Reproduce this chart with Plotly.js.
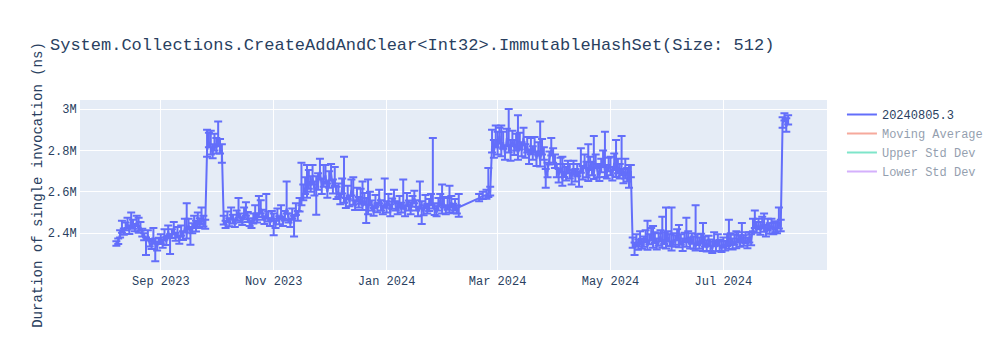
<!DOCTYPE html>
<html>
<head>
<meta charset="utf-8">
<script src="https://cdn.plot.ly/plotly-3.0.1.min.js"></script>
<style>html,body{margin:0;padding:0;background:#fff;}</style>
</head>
<body>
<div id="chart" style="width:1000px;height:350px;"></div>
<script>
// ---- data (durations in ns) ----
const runDates = [
  "2023-08-08","2023-08-09","2023-08-10","2023-08-11","2023-08-12","2023-08-13","2023-08-14","2023-08-15","2023-08-16","2023-08-17","2023-08-18","2023-08-19","2023-08-20","2023-08-21","2023-08-22","2023-08-23","2023-08-24","2023-08-25","2023-08-26","2023-08-27","2023-08-28","2023-08-29","2023-08-30","2023-08-31",
  "2023-09-01","2023-09-02","2023-09-03","2023-09-04","2023-09-05","2023-09-06","2023-09-07","2023-09-08","2023-09-09","2023-09-10","2023-09-11","2023-09-12","2023-09-13","2023-09-14","2023-09-15","2023-09-16","2023-09-17","2023-09-18","2023-09-19","2023-09-20","2023-09-21","2023-09-22","2023-09-23","2023-09-24","2023-09-25","2023-09-26","2023-09-27","2023-09-28","2023-09-29","2023-09-30",
  "2023-10-01","2023-10-02","2023-10-03","2023-10-04","2023-10-05","2023-10-06","2023-10-07","2023-10-08","2023-10-09","2023-10-10","2023-10-11","2023-10-12","2023-10-13","2023-10-14","2023-10-15","2023-10-16","2023-10-17","2023-10-18","2023-10-19","2023-10-20","2023-10-21","2023-10-22","2023-10-23","2023-10-24","2023-10-25","2023-10-26","2023-10-27","2023-10-28","2023-10-29","2023-10-30","2023-10-31",
  "2023-11-01","2023-11-02","2023-11-03","2023-11-04","2023-11-05","2023-11-06","2023-11-07","2023-11-08","2023-11-09","2023-11-10","2023-11-11","2023-11-12","2023-11-13","2023-11-14","2023-11-15","2023-11-16","2023-11-17","2023-11-18","2023-11-19","2023-11-20","2023-11-21","2023-11-22","2023-11-23","2023-11-24","2023-11-25","2023-11-26","2023-11-27","2023-11-28","2023-11-29","2023-11-30",
  "2023-12-01","2023-12-02","2023-12-03","2023-12-04","2023-12-05","2023-12-06","2023-12-07","2023-12-08","2023-12-09","2023-12-10","2023-12-11","2023-12-12","2023-12-13","2023-12-14","2023-12-15","2023-12-16","2023-12-17","2023-12-18","2023-12-19","2023-12-20","2023-12-21","2023-12-22","2023-12-23","2023-12-24","2023-12-25","2023-12-26","2023-12-27","2023-12-28","2023-12-29","2023-12-30","2023-12-31",
  "2024-01-01","2024-01-02","2024-01-03","2024-01-04","2024-01-05","2024-01-06","2024-01-07","2024-01-08","2024-01-09","2024-01-10","2024-01-11","2024-01-12","2024-01-13","2024-01-14","2024-01-15","2024-01-16","2024-01-17","2024-01-18","2024-01-19","2024-01-20","2024-01-21","2024-01-22","2024-01-23","2024-01-24","2024-01-25","2024-01-26","2024-01-27","2024-01-28","2024-01-29","2024-01-30","2024-01-31",
  "2024-02-01","2024-02-02","2024-02-03","2024-02-04","2024-02-05","2024-02-06","2024-02-07","2024-02-08","2024-02-09","2024-02-20","2024-02-22","2024-02-24","2024-02-25","2024-02-26","2024-02-27","2024-02-28","2024-02-29",
  "2024-03-01","2024-03-02","2024-03-03","2024-03-04","2024-03-05","2024-03-06","2024-03-07","2024-03-08","2024-03-09","2024-03-10","2024-03-11","2024-03-12","2024-03-13","2024-03-14","2024-03-15","2024-03-16","2024-03-17","2024-03-18","2024-03-19","2024-03-20","2024-03-21","2024-03-22","2024-03-23","2024-03-24","2024-03-25","2024-03-26","2024-03-27","2024-03-28","2024-03-29","2024-03-30","2024-03-31",
  "2024-04-01","2024-04-02","2024-04-03","2024-04-04","2024-04-05","2024-04-06","2024-04-07","2024-04-08","2024-04-09","2024-04-10","2024-04-11","2024-04-12","2024-04-13","2024-04-14","2024-04-15","2024-04-16","2024-04-17","2024-04-18","2024-04-19","2024-04-20","2024-04-21","2024-04-22","2024-04-23","2024-04-24","2024-04-25","2024-04-26","2024-04-27","2024-04-28","2024-04-29","2024-04-30",
  "2024-05-01","2024-05-02","2024-05-03","2024-05-04","2024-05-05","2024-05-06","2024-05-07","2024-05-08","2024-05-09","2024-05-10","2024-05-11","2024-05-12","2024-05-13","2024-05-14","2024-05-15","2024-05-16","2024-05-17","2024-05-18","2024-05-19","2024-05-20","2024-05-21","2024-05-22","2024-05-23","2024-05-24","2024-05-25","2024-05-26","2024-05-27","2024-05-28","2024-05-29","2024-05-30","2024-05-31",
  "2024-06-01","2024-06-02","2024-06-03","2024-06-04","2024-06-05","2024-06-06","2024-06-07","2024-06-08","2024-06-09","2024-06-10","2024-06-11","2024-06-12","2024-06-13","2024-06-14","2024-06-15","2024-06-16","2024-06-17","2024-06-18","2024-06-19","2024-06-20","2024-06-21","2024-06-22","2024-06-23","2024-06-24","2024-06-25","2024-06-26","2024-06-27","2024-06-28","2024-06-29","2024-06-30",
  "2024-07-01","2024-07-02","2024-07-03","2024-07-04","2024-07-05","2024-07-06","2024-07-07","2024-07-08","2024-07-09","2024-07-10","2024-07-11","2024-07-12","2024-07-13","2024-07-14","2024-07-15","2024-07-16","2024-07-17","2024-07-18","2024-07-19","2024-07-20","2024-07-21","2024-07-22","2024-07-23","2024-07-24","2024-07-25","2024-07-26","2024-07-27","2024-07-28","2024-07-29","2024-07-30","2024-07-31",
  "2024-08-01","2024-08-02","2024-08-03","2024-08-04","2024-08-05"
];

const durations = [
  2350e3,2360e3,2395e3,2420e3,2405e3,2430e3,2445e3,2410e3,2460e3,2440e3,2425e3,2455e3,2415e3,2430e3,2400e3,2380e3,2365e3,2390e3,2350e3,2340e3,2370e3,2355e3,2335e3,2360e3,
  2370e3,2345e3,2390e3,2360e3,2410e3,2375e3,2395e3,2420e3,2380e3,2400e3,2365e3,2410e3,2385e3,2430e3,2395e3,2440e3,2405e3,2420e3,2450e3,2430e3,2460e3,2445e3,2470e3,2455e3,2440e3,2800e3,2840e3,2815e3,2790e3,2830e3,
  2810e3,2850e3,2820e3,2800e3,2460e3,2440e3,2475e3,2450e3,2490e3,2465e3,2445e3,2480e3,2500e3,2470e3,2455e3,2490e3,2510e3,2475e3,2450e3,2440e3,2465e3,2490e3,2470e3,2500e3,2520e3,2485e3,2460e3,2495e3,2475e3,2450e3,2480e3,
  2470e3,2440e3,2490e3,2460e3,2500e3,2450e3,2480e3,2520e3,2470e3,2445e3,2490e3,2460e3,2510e3,2480e3,2530e3,2560e3,2590e3,2620e3,2600e3,2650e3,2630e3,2670e3,2610e3,2620e3,2640e3,2700e3,2620e3,2660e3,2680e3,2600e3,
  2650e3,2690e3,2620e3,2660e3,2590e3,2600e3,2560e3,2620e3,2570e3,2540e3,2590e3,2550e3,2610e3,2560e3,2530e3,2580e3,2545e3,2570e3,2530e3,2560e3,2540e3,2510e3,2560e3,2530e3,2500e3,2550e3,2520e3,2570e3,2530e3,2510e3,2545e3,
  2520e3,2560e3,2500e3,2540e3,2580e3,2530e3,2510e3,2550e3,2520e3,2540e3,2500e3,2560e3,2530e3,2510e3,2550e3,2570e3,2530e3,2500e3,2540e3,2520e3,2505e3,2545e3,2515e3,2530e3,2560e3,2540e3,2510e3,2500e3,2530e3,2560e3,2515e3,
  2545e3,2510e3,2535e3,2520e3,2550e3,2515e3,2530e3,2510e3,2525e3,2570e3,2580e3,2585e3,2595e3,2600e3,2820e3,2790e3,2850e3,
  2810e3,2870e3,2800e3,2840e3,2780e3,2860e3,2820e3,2790e3,2850e3,2810e3,2830e3,2780e3,2840e3,2800e3,2860e3,2790e3,2820e3,2770e3,2810e3,2780e3,2820e3,2760e3,2800e3,2750e3,2810e3,2780e3,2680e3,2700e3,2760e3,2800e3,2770e3,
  2740e3,2700e3,2680e3,2720e3,2660e3,2700e3,2680e3,2720e3,2690e3,2670e3,2710e3,2680e3,2700e3,2660e3,2720e3,2690e3,2740e3,2700e3,2680e3,2730e3,2710e3,2690e3,2740e3,2700e3,2680e3,2720e3,2750e3,2700e3,2690e3,2730e3,
  2710e3,2680e3,2740e3,2700e3,2720e3,2690e3,2710e3,2670e3,2700e3,2680e3,2660e3,2700e3,2350e3,2330e3,2360e3,2340e3,2370e3,2345e3,2355e3,2380e3,2340e3,2365e3,2390e3,2350e3,2375e3,2340e3,2360e3,2385e3,2350e3,2370e3,2345e3,
  2380e3,2360e3,2335e3,2370e3,2355e3,2390e3,2350e3,2365e3,2340e3,2375e3,2355e3,2380e3,2345e3,2370e3,2350e3,2335e3,2365e3,2345e3,2370e3,2340e3,2355e3,2330e3,2360e3,2340e3,2325e3,2355e3,2335e3,2360e3,2340e3,2330e3,
  2350e3,2335e3,2360e3,2345e3,2370e3,2340e3,2365e3,2350e3,2375e3,2355e3,2380e3,2360e3,2370e3,2350e3,2375e3,2360e3,2430e3,2450e3,2420e3,2440e3,2415e3,2445e3,2425e3,2410e3,2435e3,2420e3,2440e3,2415e3,2430e3,2420e3,2445e3,
  2430e3,2930e3,2960e3,2915e3,2945e3
];

const errorAbove = [
  12e3,15e3,20e3,40e3,18e3,22e3,30e3,20e3,40e3,25e3,20e3,30e3,60e3,25e3,22e3,20e3,15e3,25e3,18e3,22e3,55e3,20e3,25e3,18e3,
  25e3,20e3,30e3,22e3,28e3,20e3,25e3,35e3,22e3,30e3,20e3,28e3,25e3,40e3,150e3,30e3,25e3,28e3,35e3,30e3,40e3,28e3,55e3,30e3,25e3,100e3,45e3,80e3,40e3,50e3,
  50e3,90e3,35e3,30e3,25e3,20e3,30e3,22e3,35e3,25e3,20e3,30e3,70e3,25e3,22e3,35e3,40e3,28e3,22e3,20e3,30e3,45e3,25e3,80e3,40e3,28e3,22e3,95e3,30e3,22e3,28e3,
  25e3,20e3,30e3,22e3,35e3,20e3,28e3,130e3,25e3,20e3,30e3,25e3,35e3,28e3,40e3,180e3,45e3,50e3,130e3,55e3,45e3,60e3,40e3,55e3,50e3,60e3,45e3,70e3,50e3,40e3,
  50e3,45e3,40e3,60e3,35e3,40e3,30e3,45e3,200e3,30e3,40e3,30e3,50e3,110e3,28e3,40e3,30e3,45e3,120e3,35e3,30e3,150e3,40e3,28e3,22e3,35e3,25e3,40e3,30e3,25e3,120e3,
  35e3,30e3,40e3,28e3,30e3,25e3,35e3,30e3,28e3,120e3,30e3,35e3,28e3,40e3,30e3,35e3,30e3,28e3,110e3,35e3,30e3,40e3,28e3,35e3,30e3,320e3,35e3,30e3,40e3,30e3,120e3,
  30e3,25e3,35e3,110e3,30e3,28e3,35e3,25e3,65e3,20e3,20e3,25e3,120e3,25e3,80e3,60e3,70e3,
  80e3,40e3,120e3,50e3,40e3,45e3,180e3,60e3,45e3,40e3,50e3,190e3,45e3,40e3,50e3,40e3,45e3,35e3,50e3,40e3,45e3,35e3,40e3,190e3,45e3,35e3,30e3,40e3,35e3,60e3,40e3,
  40e3,35e3,30e3,45e3,110e3,35e3,40e3,30e3,45e3,35e3,40e3,30e3,35e3,40e3,90e3,35e3,40e3,45e3,150e3,40e3,35e3,180e3,40e3,35e3,45e3,40e3,50e3,190e3,40e3,35e3,
  60e3,40e3,45e3,150e3,40e3,45e3,160e3,40e3,60e3,35e3,70e3,30e3,30e3,25e3,35e3,30e3,40e3,28e3,30e3,35e3,120e3,30e3,35e3,85e3,30e3,35e3,40e3,30e3,130e3,35e3,180e3,
  30e3,35e3,190e3,30e3,35e3,30e3,90e3,30e3,35e3,28e3,120e3,30e3,35e3,30e3,35e3,200e3,30e3,35e3,28e3,110e3,30e3,35e3,28e3,30e3,35e3,50e3,30e3,35e3,28e3,30e3,
  30e3,28e3,35e3,120e3,30e3,35e3,28e3,60e3,30e3,35e3,70e3,30e3,35e3,28e3,30e3,35e3,40e3,60e3,35e3,30e3,40e3,35e3,70e3,30e3,35e3,28e3,30e3,35e3,28e3,30e3,80e3,
  35e3,30e3,20e3,40e3,25e3
];

const errorBelow = [
  10e3,12e3,15e3,18e3,12e3,15e3,20e3,14e3,22e3,18e3,15e3,20e3,12e3,18e3,15e3,14e3,70e3,18e3,14e3,16e3,20e3,90e3,18e3,12e3,
  18e3,15e3,20e3,16e3,22e3,75e3,18e3,25e3,16e3,20e3,15e3,22e3,18e3,25e3,20e3,22e3,60e3,20e3,25e3,22e3,28e3,20e3,25e3,22e3,18e3,30e3,25e3,35e3,28e3,30e3,
  25e3,30e3,35e3,60e3,18e3,15e3,20e3,16e3,22e3,18e3,15e3,20e3,25e3,18e3,15e3,22e3,25e3,20e3,15e3,14e3,18e3,25e3,18e3,22e3,25e3,20e3,15e3,22e3,18e3,15e3,20e3,
  80e3,15e3,20e3,16e3,22e3,15e3,18e3,25e3,18e3,15e3,20e3,75e3,22e3,20e3,25e3,25e3,30e3,30e3,28e3,35e3,30e3,35e3,28e3,130e3,30e3,40e3,30e3,35e3,32e3,28e3,
  30e3,35e3,28e3,32e3,25e3,25e3,20e3,28e3,22e3,18e3,25e3,20e3,28e3,22e3,18e3,25e3,20e3,28e3,18e3,22e3,90e3,18e3,25e3,20e3,15e3,22e3,18e3,25e3,20e3,18e3,22e3,
  20e3,25e3,18e3,22e3,28e3,20e3,18e3,25e3,20e3,22e3,18e3,25e3,20e3,18e3,22e3,25e3,20e3,18e3,22e3,75e3,18e3,25e3,20e3,22e3,25e3,20e3,22e3,18e3,20e3,25e3,20e3,
  20e3,18e3,22e3,20e3,25e3,18e3,20e3,15e3,45e3,15e3,15e3,18e3,20e3,18e3,30e3,25e3,35e3,
  30e3,35e3,28e3,32e3,25e3,35e3,30e3,40e3,28e3,32e3,30e3,25e3,35e3,28e3,30e3,25e3,30e3,35e3,28e3,25e3,30e3,35e3,25e3,28e3,30e3,25e3,60e3,30e3,28e3,25e3,30e3,
  25e3,30e3,35e3,25e3,30e3,28e3,25e3,30e3,25e3,35e3,28e3,30e3,25e3,35e3,28e3,30e3,25e3,30e3,28e3,25e3,30e3,28e3,25e3,30e3,28e3,25e3,30e3,28e3,25e3,30e3,
  30e3,25e3,35e3,28e3,30e3,25e3,30e3,28e3,35e3,30e3,40e3,30e3,20e3,35e3,22e3,20e3,25e3,18e3,20e3,22e3,20e3,18e3,25e3,20e3,22e3,18e3,20e3,25e3,20e3,22e3,18e3,
  20e3,22e3,18e3,25e3,20e3,22e3,18e3,20e3,25e3,18e3,20e3,22e3,18e3,20e3,25e3,18e3,22e3,20e3,18e3,25e3,20e3,18e3,22e3,25e3,20e3,18e3,22e3,20e3,25e3,20e3,
  20e3,18e3,22e3,20e3,25e3,18e3,20e3,22e3,18e3,20e3,25e3,20e3,18e3,22e3,20e3,18e3,20e3,25e3,18e3,20e3,22e3,20e3,18e3,25e3,20e3,22e3,18e3,20e3,25e3,20e3,22e3,
  20e3,20e3,15e3,25e3,20e3
];

// hidden (legend-only) statistics series
const statDates = ["2023-08-15","2023-09-15","2023-10-15","2023-11-15","2023-12-15","2024-01-15","2024-02-15","2024-03-15","2024-04-15","2024-05-15","2024-06-15","2024-07-15","2024-08-05"];
const movingAverage = [2400e3,2420e3,2520e3,2530e3,2590e3,2530e3,2540e3,2800e3,2700e3,2520e3,2355e3,2390e3,2700e3];
const upperStd = [2460e3,2480e3,2640e3,2600e3,2650e3,2580e3,2600e3,2860e3,2750e3,2700e3,2400e3,2440e3,2950e3];
const lowerStd = [2340e3,2360e3,2400e3,2460e3,2530e3,2480e3,2480e3,2740e3,2650e3,2340e3,2310e3,2340e3,2450e3];

const seriesName = "20240805.3";
const chartTitle = "System.Collections.CreateAddAndClear<Int32>.ImmutableHashSet(Size: 512)";
const yTitle = "Duration of single invocation (ns)";

const mono = '"Courier New", "Liberation Mono", monospace';

const traces = [
  {
    type: 'scatter', mode: 'lines', name: seriesName,
    x: runDates, y: durations,
    line: {color: '#636efa', width: 2},
    error_y: {type: 'data', symmetric: false, array: errorAbove, arrayminus: errorBelow,
              color: '#636efa', thickness: 2, width: 4, visible: true}
  },
  {type: 'scatter', mode: 'lines', name: 'Moving Average', x: statDates, y: movingAverage,
   line: {color: '#EF553B'}, visible: 'legendonly'},
  {type: 'scatter', mode: 'lines', name: 'Upper Std Dev', x: statDates, y: upperStd,
   line: {color: '#00cc96'}, visible: 'legendonly'},
  {type: 'scatter', mode: 'lines', name: 'Lower Std Dev', x: statDates, y: lowerStd,
   line: {color: '#ab63fa'}, visible: 'legendonly'}
];

const layout = {
  width: 1000, height: 350,
  font: {family: mono, color: '#2a3f5f', size: 12},
  title: {text: chartTitle, x: 0.05, xanchor: 'left', font: {family: mono, size: 17}},
  paper_bgcolor: '#ffffff', plot_bgcolor: '#E5ECF6',
  margin: {l: 80, r: 80, t: 100, b: 80},
  xaxis: {type: 'date', range: ['2023-07-19 08:00', '2024-08-26'],
          gridcolor: '#ffffff', linecolor: '#ffffff', zeroline: false, ticks: '',
          dtick: 'M2', tick0: '2023-09-01', tickformat: '%b %Y'},
  yaxis: {title: {text: yTitle, font: {size: 14}}, range: [2222.7e3, 3043.5e3],
          gridcolor: '#ffffff', linecolor: '#ffffff', zeroline: false, ticks: '',
          dtick: 200e3},
  legend: {font: {size: 12}},
  showlegend: true
};

Plotly.newPlot('chart', traces, layout, {displayModeBar: false, responsive: false});
</script>
</body>
</html>
